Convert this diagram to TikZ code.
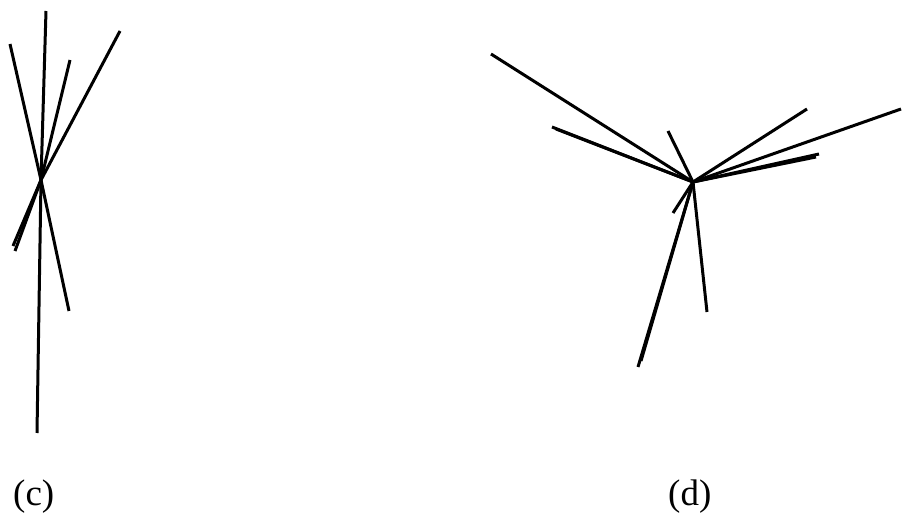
\documentclass[tikz,border=0pt]{standalone}
\usepackage{fontspec}
\setmainfont{Liberation Serif}
\begin{document}
\begin{tikzpicture}[x=1pt,y=-1pt,
  ray/.style={line width=3pt, line cap=butt},
  lbl/.style={font=\fontsize{37}{40}\selectfont, inner sep=0pt, anchor=base west}]
\useasboundingbox (0,0) rectangle (906,518);
% cluster (c)
\coordinate (c0) at (41,180);
\coordinate (c1) at (10,44);
\coordinate (c2) at (46,11);
\coordinate (c3) at (70,60);
\coordinate (c4) at (120,31);
\coordinate (c5) at (13,246);
\coordinate (c6) at (15,251);
\coordinate (c7) at (69,311);
\coordinate (c8) at (37,433);
\foreach \n in {c1,c2,c3,c4,c5,c6,c7,c8} \draw[ray] (c0) -- (\n);
% cluster (d)
\coordinate (d0) at (693,182);
\coordinate (d1) at (491,54);
\coordinate (d2) at (552,127);
\coordinate (d3) at (556,129);
\coordinate (d4) at (668,131);
\coordinate (d5) at (807,109);
\coordinate (d6) at (901,109);
\coordinate (d7) at (819,154);
\coordinate (d8) at (816,157);
\coordinate (d9) at (673,213);
\coordinate (d10) at (707,312);
\coordinate (d11) at (638,367);
\coordinate (d12) at (641,361);
\foreach \n in {d1,d2,d3,d4,d5,d6,d7,d8,d9,d10,d11,d12} \draw[ray] (d0) -- (\n);
\node[lbl] (lc) at (13,506) {(c)};
\node[lbl] (ld) at (668,506) {(d)};
\end{tikzpicture}
\end{document}
